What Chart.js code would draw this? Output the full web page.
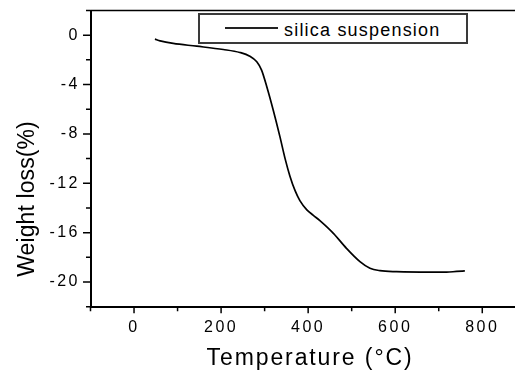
<!DOCTYPE html>
<html><head><meta charset="utf-8">
<script src="https://cdn.jsdelivr.net/npm/chart.js@4.4.1/dist/chart.umd.min.js"></script>
<style>
html,body{margin:0;padding:0;background:#fff;overflow:hidden;width:515px;height:372px;}
#wrap{position:relative;width:530px;height:372px;}
#c{position:absolute;left:0;top:0;}
#legend{position:absolute;left:198px;top:13px;width:266px;height:27px;border:2px solid #3a3a3a;background:#fff;}
#legend .ln{position:absolute;left:25px;top:12.3px;width:53px;height:1.5px;background:#222;}
#legend .tx{position:absolute;left:84px;top:5.5px;font:18px/18px "Liberation Sans",Arial,sans-serif;letter-spacing:1.2px;color:#000;white-space:nowrap;}
</style></head>
<body>
<div id="wrap">
<canvas id="c" width="530" height="372"></canvas>
<div id="legend"><div class="ln"></div><div class="tx" id="legtext"></div></div>
</div>
<script>
// ---- data ----
const temperatures = [48, 60, 90, 144, 205, 243, 266, 282, 293, 305, 320, 335, 347, 358, 370, 381, 397, 412, 427, 458, 488, 519, 542, 565, 603, 680, 718, 741, 760];
const weightLoss   = [-0.32, -0.46, -0.67, -0.89, -1.16, -1.40, -1.70, -2.16, -2.83, -4.18, -6.1, -8.2, -10.0, -11.4, -12.6, -13.4, -14.15, -14.6, -15.03, -16.06, -17.27, -18.35, -18.89, -19.08, -19.16, -19.2, -19.2, -19.14, -19.1];
const seriesName = 'silica suspension';
const xTitle = 'Temperature (°C)';
const yTitle = 'Weight loss(%)';
const xMajorTicks = [0, 200, 400, 600, 800];
const xMinorTicks = [-100, 100, 300, 500, 700, 900];
const yMajorTicks = [-20, -16, -12, -8, -4, 0];
const yMinorTicks = [-22, -18, -14, -10, -6, -2, 2];
const xRange = [-100, 900];
const yRange = [-22, 2];

document.getElementById('legtext').textContent = seriesName;

const FONT = '"Liberation Sans", Arial, sans-serif';

const framePlugin = {
  id: 'frameTicks',
  beforeDraw(chart) { chart.ctx.letterSpacing = '2.5px'; },
  afterDraw(chart) {
    const {ctx, chartArea: a, scales: {x, y}} = chart;
    ctx.save();
    ctx.letterSpacing = '0px';
    ctx.strokeStyle = '#000';
    ctx.lineWidth = 1.6;
    ctx.beginPath(); ctx.moveTo(a.left, a.top); ctx.lineTo(a.right + 10, a.top); ctx.stroke();
    ctx.lineWidth = 1.5;
    ctx.beginPath();
    yMajorTicks.forEach(v => { const p = y.getPixelForValue(v); ctx.moveTo(a.left, p); ctx.lineTo(a.left - 7.5, p); });
    yMinorTicks.forEach(v => { const p = y.getPixelForValue(v); ctx.moveTo(a.left, p); ctx.lineTo(a.left - 4.5, p); });
    xMajorTicks.forEach(v => { const p = x.getPixelForValue(v); ctx.moveTo(p, a.bottom); ctx.lineTo(p, a.bottom + 6.5); });
    xMinorTicks.forEach(v => { const p = x.getPixelForValue(v); ctx.moveTo(p, a.bottom); ctx.lineTo(p, a.bottom + 4.5); });
    ctx.stroke();
    // axis titles
    ctx.fillStyle = '#000';
    ctx.font = '23px ' + FONT;
    ctx.textAlign = 'center';
    ctx.textBaseline = 'alphabetic';
    ctx.letterSpacing = '1.9px';
    ctx.fillText(xTitle, x.getPixelForValue(400) + 1.9, 365);
    ctx.letterSpacing = '0.1px';
    ctx.translate(33.5, 199);
    ctx.rotate(-Math.PI / 2);
    ctx.fillText(yTitle, 0, 0);
    ctx.restore();
  }
};

new Chart(document.getElementById('c'), {
  type: 'line',
  data: {
    datasets: [{
      label: seriesName,
      data: temperatures.map((t, i) => ({x: t, y: weightLoss[i]})),
      borderColor: '#000',
      borderWidth: 1.7,
      pointRadius: 0,
      cubicInterpolationMode: 'monotone',
      fill: false
    }]
  },
  options: {
    responsive: false,
    animation: false,
    layout: {padding: {top: 10.5, right: 4.2, bottom: 0, left: 0}},
    plugins: {legend: {display: false}, tooltip: {enabled: false}},
    scales: {
      x: {
        type: 'linear', min: xRange[0], max: xRange[1],
        afterFit(s) { s.height = 65.3; s.paddingLeft = 0; s.paddingRight = 0; },
        grid: {display: false, drawTicks: false},
        border: {display: true, color: '#000', width: 2},
        ticks: {
          stepSize: 100, autoSkip: false, maxRotation: 0, padding: 11,
          color: '#000', font: {family: FONT, size: 16},
          callback: v => xMajorTicks.includes(v) ? String(v) : ''
        }
      },
      y: {
        min: yRange[0], max: yRange[1],
        afterFit(s) { s.width = 90.5; s.paddingTop = 0; s.paddingBottom = 0; },
        grid: {display: false, drawTicks: false},
        border: {display: true, color: '#000', width: 2},
        ticks: {
          stepSize: 2, autoSkip: false, padding: 10.5,
          color: '#000', font: {family: FONT, size: 16},
          callback: v => yMajorTicks.includes(v) ? String(v) : ''
        }
      }
    }
  },
  plugins: [framePlugin]
});
</script>
</body></html>
